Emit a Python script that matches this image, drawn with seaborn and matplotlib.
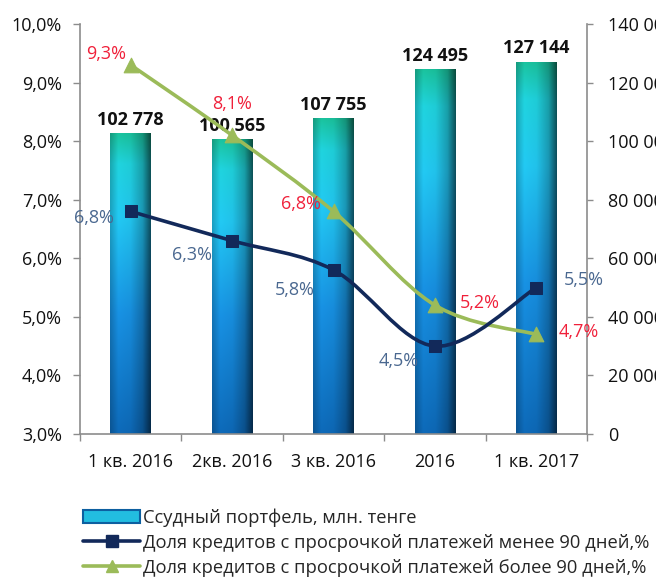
import numpy as np
import pandas as pd
import matplotlib
matplotlib.use('Agg')
import matplotlib.pyplot as plt
import seaborn as sns
from matplotlib.path import Path
from matplotlib.patches import PathPatch, Patch
from matplotlib.lines import Line2D

# data
periods = ['1 кв. 2016', '2кв. 2016', '3 кв. 2016', '2016', '1 кв. 2017']
portfolio = [102778, 100565, 107755, 124495, 127144]      # млн. тенге, right axis
overdue_lt90 = [6.8, 6.3, 5.8, 4.5, 5.5]                  # %, left axis
overdue_gt90 = [9.3, 8.1, 6.8, 5.2, 4.7]                  # %, left axis

lbl_bar = 'Ссудный портфель, млн. тенге'
lbl_lt90 = 'Доля кредитов с просрочкой платежей менее 90 дней,%'
lbl_gt90 = 'Доля кредитов с просрочкой платежей более 90 дней,%'

NAVY = '#12295a'
OLIVE = '#9bbb59'
RED_TXT = '#f0203a'
BLUE_TXT = '#4a6890'
GREY = '#8c8c8c'

sns.set_style('white')
plt.rcParams['font.family'] = ['Open Sans', 'DejaVu Sans']


def smooth_path(xs, ys):
    # excel-like smoothed line: catmull-rom segments as cubic beziers
    pts = np.column_stack([xs, ys]).astype(float)
    ext = np.vstack([pts[0], pts, pts[-1]])
    verts = [pts[0]]
    codes = [Path.MOVETO]
    for i in range(len(pts) - 1):
        p0, p1, p2, p3 = ext[i], ext[i + 1], ext[i + 2], ext[i + 3]
        verts += [p1 + (p2 - p0) / 6, p2 - (p3 - p1) / 6, p2]
        codes += [Path.CURVE4] * 3
    return Path(verts, codes)


def bar_gradient():
    t = np.linspace(0, 1, 200)[:, None]
    s = np.linspace(0, 1, 60)[None, :]
    stops_t = [0.0, 0.4, 0.72, 0.9, 1.0]
    stops_c = np.array([[0.05, 0.40, 0.70], [0.09, 0.55, 0.86], [0.13, 0.76, 0.92],
                        [0.12, 0.80, 0.84], [0.10, 0.74, 0.60]])
    col = np.stack([np.interp(t[:, 0], stops_t, stops_c[:, k]) for k in range(3)], axis=1)
    shade = np.interp(s[0], [0.0, 0.2, 0.5, 0.8, 1.0], [0.82, 1.04, 1.0, 0.78, 0.4])
    img = col[:, None, :] * shade[None, :, None]
    return np.clip(img, 0, 1)


fig = plt.figure(figsize=(6.56, 5.77), dpi=100)
ax = fig.add_axes([80 / 656, 1 - 434 / 577, 507 / 656, 410 / 577])

df = pd.DataFrame({'period': periods, 'portfolio': portfolio})
sns.barplot(data=df, x='period', y='portfolio', ax=ax, width=0.4, color='#20b8e0')

grad = bar_gradient()
for p in ax.patches:
    x0, y0, w, h = p.get_x(), p.get_y(), p.get_width(), p.get_height()
    im = ax.imshow(grad, extent=[x0, x0 + w, y0, y0 + h], origin='lower',
                   aspect='auto', zorder=p.get_zorder() + 0.1, interpolation='bilinear')
    im.set_clip_path(p)
    p.set_edgecolor('none')

ax.bar_label(ax.containers[0], labels=[f'{v:,}'.replace(',', ' ') for v in portfolio],
             padding=3, fontsize=13, fontweight='bold', color='#111111')

ax.set_xlim(-0.5, len(periods) - 0.5)
ax.set_ylim(0, 140000)
ax.set_aspect('auto')
ax.set_xlabel('')
ax.set_ylabel('')

ax2 = ax.twinx()
ax.yaxis.tick_right()
ax2.yaxis.tick_left()

xs = np.arange(len(periods))
ax2.add_patch(PathPatch(smooth_path(xs, overdue_gt90), fill=False, edgecolor=OLIVE,
                        lw=2.6, capstyle='round', zorder=3))
ax2.add_patch(PathPatch(smooth_path(xs, overdue_lt90), fill=False, edgecolor=NAVY,
                        lw=2.6, capstyle='round', zorder=3))
sns.scatterplot(x=xs, y=overdue_gt90, ax=ax2, marker='^', s=110, color=OLIVE,
                edgecolor=OLIVE, zorder=4)
sns.scatterplot(x=xs, y=overdue_lt90, ax=ax2, marker='s', s=85, color=NAVY,
                edgecolor=NAVY, zorder=4)

# label offsets in pixels (dx, dy)
off_gt = [(-25, 11), (0, 31), (-33, 7), (45, 2), (42, 2)]
off_lt = [(-37, -7), (-40, -14), (-39, -20), (-36, -15), (48, 8)]
for i, v in enumerate(overdue_gt90):
    ax2.annotate(f'{v:.1f}%'.replace('.', ','), (i, v), xytext=(off_gt[i][0] * 0.72, off_gt[i][1] * 0.72),
                 textcoords='offset points', ha='center', va='center', color=RED_TXT, fontsize=13)
for i, v in enumerate(overdue_lt90):
    ax2.annotate(f'{v:.1f}%'.replace('.', ','), (i, v), xytext=(off_lt[i][0] * 0.72, off_lt[i][1] * 0.72),
                 textcoords='offset points', ha='center', va='center', color=BLUE_TXT, fontsize=13)

ax2.set_ylim(3, 10)
ax2.set_yticks(np.arange(3, 10.01, 1))
ax2.set_yticklabels([f'{v:.1f}%'.replace('.', ',') for v in np.arange(3, 10.01, 1)])
ax.set_yticks(np.arange(0, 140001, 20000))
ax.set_yticklabels([f'{v:,}'.replace(',', ' ') for v in range(0, 140001, 20000)])

for a in (ax, ax2):
    for sp in a.spines.values():
        sp.set_visible(False)
ax.spines['right'].set_visible(True)
ax.spines['bottom'].set_visible(True)
ax2.spines['left'].set_visible(True)
for sp in (ax.spines['right'], ax.spines['bottom'], ax2.spines['left']):
    sp.set_color(GREY)
    sp.set_linewidth(1.2)

ax2.tick_params(axis='y', which='major', left=True, length=5, width=1, color=GREY,
                pad=8, labelsize=13, labelcolor='#111111')
ax.tick_params(axis='y', which='major', right=True, length=4, width=1, color=GREY,
               pad=11, labelsize=13, labelcolor='#111111')
ax.set_xticks(np.arange(-0.5, len(periods)), minor=True)
ax.tick_params(axis='x', which='minor', bottom=True, length=5, width=1, color=GREY)
ax.tick_params(axis='x', which='major', length=0, pad=14, labelsize=13, labelcolor='#111111')

handles = [
    Patch(facecolor='#22bde0', edgecolor='#0d5fa0', linewidth=1.5),
    Line2D([], [], color=NAVY, lw=2.6, marker='s', markersize=8),
    Line2D([], [], color=OLIVE, lw=2.6, marker='^', markersize=9),
]
fig.legend(handles, [lbl_bar, lbl_lt90, lbl_gt90], loc='upper left',
           bbox_to_anchor=(76 / 656, 1 - 501 / 577), frameon=False, fontsize=13.2,
           handlelength=3.1, handletextpad=0.15, labelspacing=0.38, borderaxespad=0)

fig.savefig('out.png', dpi=100)
